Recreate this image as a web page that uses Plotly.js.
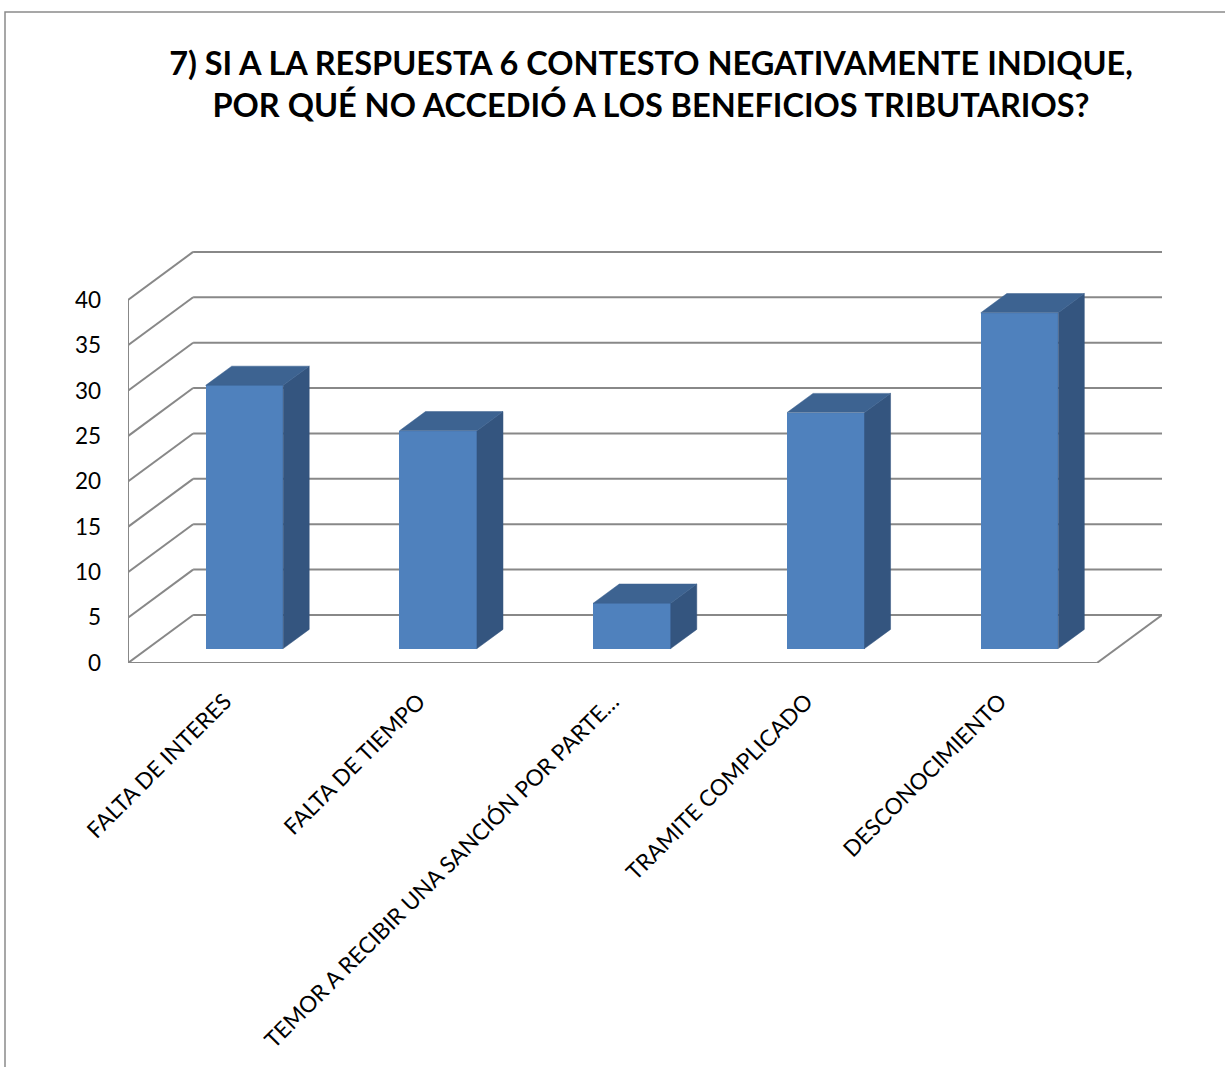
<!DOCTYPE html>
<html>
<head>
<meta charset="utf-8">
<script src="https://cdn.plot.ly/plotly-3.0.1.min.js"></script>
<style>html,body{margin:0;padding:0;background:#fff;}#chart{width:1225px;height:1067px;}</style>
</head>
<body>
<div id="chart"></div>
<script>
// ---- data ----
const categories = ['FALTA DE INTERES', 'FALTA DE TIEMPO', 'TEMOR A RECIBIR UNA SANCIÓN POR PARTE…', 'TRAMITE COMPLICADO', 'DESCONOCIMIENTO'];
const values = [29, 24, 5, 26, 37];
const yTicks = [0, 5, 10, 15, 20, 25, 30, 35, 40];
const titleLines = ['7) SI A LA RESPUESTA 6 CONTESTO NEGATIVAMENTE INDIQUE,', 'POR QUÉ NO ACCEDIÓ A LOS BENEFICIOS TRIBUTARIOS?'];

// ---- oblique 3D projection settings (style, not data) ----
const DX = 0.336, DY = 5.29;      // back-wall offset in axis units
const HALF = 0.2;                  // half bar width
const D0 = 0.3, D1 = 0.7;          // bar depth span
const n = categories.length;
const centers = categories.map((c, i) => i + 0.5);
const P = (x, y, d) => [x + d * DX, y + d * DY];

const gridColor = '#888888';
const shapes = [];
const line = (a, b, w) => shapes.push({type: 'line', xref: 'x', yref: 'y', x0: a[0], y0: a[1], x1: b[0], y1: b[1], layer: 'below', line: {color: gridColor, width: w || 2}});
yTicks.forEach(t => {
  line(P(0, t, 1), P(n, t, 1));   // back wall
  line(P(0, t, 0), P(0, t, 1));   // left wall
});
line(P(0, 0, 0), P(0, yTicks[yTicks.length - 1], 0)); // front vertical axis
line(P(0, 0, 0), P(n, 0, 0));     // floor front
line(P(n, 0, 0), P(n, 0, 1));     // floor right
// chart border
shapes.push({type: 'rect', xref: 'paper', yref: 'paper', x0: -123 / 1034, x1: 1.2, y0: -1.2, y1: (1067 - 12 - 404) / 413, layer: 'below', line: {color: '#8a8a8a', width: 1.5}, fillcolor: 'rgba(0,0,0,0)'});

// side and top faces
const sideX = [], sideY = [], topX = [], topY = [];
centers.forEach((c, i) => {
  const v = values[i];
  const side = [P(c + HALF, 0, D0), P(c + HALF, 0, D1), P(c + HALF, v, D1), P(c + HALF, v, D0), P(c + HALF, 0, D0)];
  const top = [P(c - HALF, v, D0), P(c + HALF, v, D0), P(c + HALF, v, D1), P(c - HALF, v, D1), P(c - HALF, v, D0)];
  side.forEach(p => { sideX.push(p[0]); sideY.push(p[1]); }); sideX.push(null); sideY.push(null);
  top.forEach(p => { topX.push(p[0]); topY.push(p[1]); }); topX.push(null); topY.push(null);
});

const traces = [
  {type: 'bar', x: centers.map(c => P(c, 0, D0)[0]), y: values, base: P(0, 0, D0)[1], width: 2 * HALF,
   marker: {color: '#4F81BD', line: {width: 0}}, hoverinfo: 'y', showlegend: false},
  {type: 'scatter', mode: 'lines', x: sideX, y: sideY, fill: 'toself', fillcolor: '#34557F', line: {width: 0.5, color: '#34557F'}, hoverinfo: 'skip', showlegend: false},
  {type: 'scatter', mode: 'lines', x: topX, y: topY, fill: 'toself', fillcolor: '#3D6391', line: {width: 0.5, color: '#3D6391'}, hoverinfo: 'skip', showlegend: false}
];

const layout = {
  width: 1225, height: 1067,
  paper_bgcolor: '#ffffff', plot_bgcolor: 'rgba(0,0,0,0)',
  margin: {l: 128, r: 63, t: 250, b: 404, pad: 0},
  font: {family: 'Lato, "Open Sans", sans-serif', color: '#000000'},
  title: {text: '<b>' + titleLines.join('<br>') + '</b>', x: 651 / 1225, xanchor: 'center', xref: 'container',
          y: 1 - 75 / 1067, yanchor: 'middle', yref: 'container', font: {family: 'Lato, sans-serif', size: 32.5, color: '#000'}},
  showlegend: false,
  bargap: 0,
  xaxis: {range: [0, n + DX], tickvals: centers, ticktext: categories, tickangle: -45, showgrid: false, zeroline: false,
          showline: false, ticks: '', ticklabelstandoff: 20, tickfont: {size: 22.5, family: 'Lato, sans-serif', color: '#000'}, fixedrange: true},
  yaxis: {range: [0, 45.5], tickvals: yTicks, showgrid: false, zeroline: false, showline: false, ticks: '',
          ticklabelstandoff: 26, tickfont: {size: 22.5, family: 'Lato, sans-serif', color: '#000'}, fixedrange: true},
  shapes: shapes
};
Plotly.newPlot('chart', traces, layout, {displayModeBar: false, staticPlot: true});
</script>
</body>
</html>
